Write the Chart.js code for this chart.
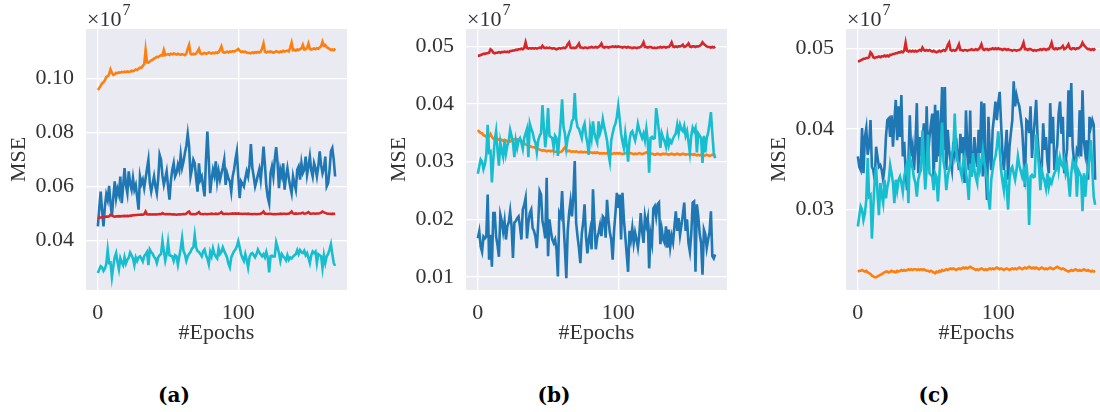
<!DOCTYPE html>
<html>
<head>
<meta charset="utf-8">
<script src="https://cdn.jsdelivr.net/npm/chart.js@4.4.0/dist/chart.umd.min.js"></script>
<style>
html, body { margin: 0; padding: 0; background: #fff; width: 1100px; height: 412px; overflow: hidden; }
.panel { position: absolute; top: 0; }
.cap { position: absolute; top: 383px; font: 900 20px 'DejaVu Serif', serif; color: #000; transform: translateX(-50%); line-height: 24px; }
</style>
</head>
<body>
<canvas id="chartA" class="panel" width="380" height="360" style="left:0px"></canvas>
<canvas id="chartB" class="panel" width="380" height="360" style="left:380px"></canvas>
<canvas id="chartC" class="panel" width="380" height="360" style="left:760px"></canvas>
<div class="cap" style="left:174px">(a)</div>
<div class="cap" style="left:554px">(b)</div>
<div class="cap" style="left:934px">(c)</div>
<script>
// MSE values in units of 10^4 (axis shows them as x10^7)
const epochs = Array.from({ length: 170 }, (_, i) => i)

const redMse = [
    48.4,48.4,48.5,48.6,48.7,48.7,48.8,48.8,48.9,49.5, 49.3,48.9,48.8,48.9,48.9,49.0,48.9,49.0,49.0,49.1,
    49.0,49.1,49.0,49.2,49.2,49.3,49.3,49.4,49.4,49.5, 49.5,49.6,49.5,49.7,50.7,49.7,49.6,49.7,49.6,49.7,
    49.6,49.7,49.6,49.7,49.8,49.7,50.1,49.8,49.7,49.8, 49.7,49.8,49.7,49.6,49.7,49.6,49.5,49.6,49.7,49.6,
    49.7,49.8,49.7,49.9,50.4,50.7,49.8,49.7,49.8,49.7, 49.8,50.1,50.5,49.8,49.8,49.7,49.8,49.8,49.7,49.8,
    49.8,49.9,49.8,49.8,49.9,49.8,49.9,50.1,50.5,49.9, 49.8,49.9,49.9,49.8,49.9,49.9,50.0,49.9,50.0,49.9,
    50.0,49.9,49.9,49.8,49.9,49.9,49.8,49.9,49.8,49.8, 49.7,49.8,49.8,49.7,49.8,49.8,49.9,50.2,50.7,49.9,
    49.9,49.8,49.9,49.9,49.8,49.7,49.8,49.7,49.8,49.8, 49.9,49.8,49.9,49.9,49.8,49.9,49.9,50.2,50.7,50.0,
    49.9,50.0,49.9,50.0,50.0,50.1,50.3,49.9,50.0,50.2, 50.5,50.0,49.9,50.0,50.0,49.9,50.0,50.0,50.1,50.3,
    50.7,50.4,50.2,50.0,49.9,49.9,49.8,49.9,49.8,50.0
]

const cyanMse = [
    27.9,29.2,30.4,30.0,28.7,29.5,31.2,36.4,31.6,31.8, 26.4,30.4,33.7,35.3,32.0,29.3,33.3,31.8,30.8,33.7,
    31.4,32.8,33.6,35.5,34.5,33.3,30.8,33.7,32.4,33.7, 34.1,33.3,32.2,34.1,34.9,35.7,30.8,36.6,35.7,35.1,
    33.9,33.3,31.6,33.7,34.5,34.9,39.8,36.0,32.5,35.0, 39.3,34.5,34.3,34.1,32.4,34.5,34.1,31.0,34.0,37.0,
    40.8,36.0,34.9,32.4,34.1,35.0,35.7,37.0,37.4,41.9, 37.4,36.0,35.7,34.9,34.1,35.9,36.6,34.5,33.3,31.2,
    35.7,34.1,37.0,34.9,34.0,33.3,37.0,34.9,35.7,37.4, 36.0,34.9,33.7,31.4,30.0,33.7,34.9,36.0,36.6,37.8,
    39.7,37.4,34.9,33.5,32.4,34.9,32.8,30.0,33.7,35.0, 35.3,34.5,33.7,34.9,36.6,35.5,34.8,34.1,34.9,33.7,
    35.7,33.7,28.1,34.1,34.3,34.0,34.1,39.3,37.4,35.3, 32.4,34.9,34.1,33.5,32.6,34.5,32.8,33.7,33.3,34.0,
    34.5,34.9,36.4,34.9,36.4,35.6,35.3,36.2,34.5,35.3, 33.5,31.6,34.5,35.9,35.3,35.9,31.6,34.9,34.5,34.1,
    29.8,34.5,31.6,34.1,35.0,36.6,38.6,34.9,31.6,30.6
]

const blueA = [
    45.2,52.0,58.1,51.0,45.2,52.5,57.0,55.0,60.2,54.0, 48.9,56.0,61.9,55.7,59.0,57.0,63.7,53.8,60.0,66.8,
    60.5,57.5,65.6,61.0,58.8,63.1,58.8,60.5,56.0,51.4, 63.7,61.0,62.5,59.4,63.0,66.5,69.9,61.2,58.1,61.0,
    63.7,60.0,57.5,63.0,71.7,69.9,64.0,60.6,63.0,65.6, 60.0,55.1,62.0,66.2,68.6,63.7,65.0,68.0,66.0,71.7,
    67.0,69.3,72.4,75.0,79.5,74.8,63.7,66.5,69.9,68.6, 63.0,58.1,68.6,62.5,63.7,60.0,56.3,69.9,80.4,69.9,
    57.5,62.5,66.2,64.0,69.3,61.9,65.6,62.5,64.9,67.0, 69.9,60.6,64.9,63.0,61.9,58.1,63.7,66.2,70.0,73.0,
    63.7,55.7,61.9,61.0,60.0,63.0,65.6,63.7,68.0,75.7, 67.0,63.7,60.0,62.0,64.3,66.4,62.5,68.0,74.8,68.0,
    60.0,56.0,53.8,64.9,67.4,63.7,70.0,74.6,68.6,59.4, 66.2,64.0,68.6,58.8,63.7,66.8,63.0,60.0,57.5,63.7,
    61.0,58.8,66.2,67.4,62.5,68.6,65.0,66.2,71.1,64.3, 67.4,71.1,66.0,63.7,68.6,66.8,63.7,67.4,73.0,68.0,
    64.9,66.8,71.1,60.0,61.2,66.0,73.0,74.2,69.9,63.7
]

const orangeA = [
    95.8,96.5,97.3,98.2,98.6,99.4,100.6,100.9,101.6,103.4, 102.2,101.4,101.6,102.1,102.0,102.3,102.2,102.5,102.3,102.6,
    102.4,102.7,102.5,102.6,102.9,102.7,103.0,103.4,103.2,103.7, 104.1,104.0,104.7,105.3,110.6,106.0,105.9,106.3,106.8,107.0,
    107.4,107.7,108.1,108.0,108.4,108.7,108.6,110.6,108.7,108.9, 109.1,108.8,109.2,109.0,109.3,109.1,108.9,109.2,109.0,108.8,
    109.1,108.9,108.7,109.3,111.0,112.5,109.2,108.9,109.2,109.0, 109.3,110.0,111.0,109.4,109.1,109.3,109.5,109.2,109.4,109.7,
    109.5,109.3,109.6,109.4,109.7,109.5,109.8,110.7,111.9,109.9, 109.6,109.8,110.0,109.7,110.1,109.9,110.2,110.0,110.3,110.6,
    111.0,110.4,109.9,110.1,109.8,110.0,109.7,109.5,109.6,109.4, 109.7,109.5,109.8,109.6,109.9,109.7,110.0,111.2,113.0,110.0,
    109.7,110.0,109.8,110.1,109.9,109.6,109.8,110.2,110.0,109.7, 110.1,109.9,110.3,110.0,110.2,110.4,110.1,111.5,113.3,110.5,
    110.7,110.4,110.8,110.6,110.9,111.2,112.5,110.8,110.9,111.4, 113.0,111.0,110.8,111.0,111.2,110.9,111.3,111.1,111.5,112.0,
    113.7,112.2,112.5,111.6,111.4,111.0,110.6,110.8,110.5,111.2
]

const blueB = [
    16.7,17.9,15.3,14.4,17.0,16.7,17.0,24.3,13.0,17.3, 11.8,21.1,21.1,17.0,15.5,13.5,20.8,19.7,17.9,19.7,
    16.5,18.8,19.5,21.4,18.8,13.3,19.4,19.7,20.2,20.5, 18.8,16.5,21.7,22.5,23.7,16.7,19.4,21.1,21.7,18.5,
    18.0,17.0,15.0,19.4,24.9,24.3,19.7,18.5,16.7,27.2, 13.6,20.0,18.0,16.5,15.9,16.5,14.8,10.1,21.1,20.5,
    24.9,19.4,15.0,9.8,18.0,21.1,23.1,20.5,24.0,30.1, 19.4,17.0,15.0,12.4,17.5,19.4,22.6,17.0,14.1,16.5,
    18.0,14.8,25.2,19.4,14.8,16.8,17.7,19.0,17.1,20.5, 20.2,16.8,23.4,20.0,17.7,16.5,13.0,18.0,21.1,24.6,
    22.0,24.3,16.5,24.6,20.0,17.1,14.0,10.9,18.0,16.5, 18.5,15.9,17.7,16.5,15.1,17.4,21.1,17.9,15.9,20.5,
    19.0,20.2,11.5,17.4,15.9,21.9,22.3,20.5,22.6,22.9, 15.7,18.2,16.5,15.9,18.8,15.1,18.2,15.2,17.1,16.0,
    18.8,21.4,18.0,20.2,17.3,19.0,20.8,22.9,18.0,20.0, 15.9,14.4,17.5,22.9,23.1,10.9,22.6,20.5,17.5,15.9,
    10.4,18.2,17.4,15.0,16.5,17.7,21.4,13.6,13.2,13.9
]

const orangeB = [
    35.5,35.2,35.0,34.9,34.6,34.5,34.3,34.2,34.4,34.8, 34.3,34.0,34.1,33.9,33.8,33.9,33.7,33.8,33.6,33.8,
    33.7,33.5,33.6,33.5,33.7,33.8,33.9,33.8,33.9,33.7, 33.8,33.6,33.4,33.2,33.0,32.9,32.8,32.7,32.6,32.5,
    32.5,32.4,32.3,32.2,32.1,32.0,31.9,32.0,31.9,31.8, 31.9,31.9,31.8,31.9,31.8,31.7,31.8,31.7,31.6,31.7,
    31.8,32.2,32.5,31.9,31.8,31.9,31.8,31.7,31.8,31.7, 31.8,31.7,31.6,31.7,31.7,31.6,31.7,31.6,31.7,31.5,
    31.6,31.6,31.5,31.6,31.5,31.6,31.5,31.4,31.5,31.4, 31.5,31.4,31.5,31.4,31.5,31.3,31.4,31.5,31.4,31.5,
    31.4,31.5,31.4,31.3,31.4,31.5,31.4,31.3,31.4,31.5, 31.4,31.3,31.4,31.3,31.4,31.5,31.4,31.3,31.4,31.5,
    31.6,31.5,31.4,31.3,31.4,31.3,31.2,31.3,31.4,31.3, 31.2,31.3,31.4,31.3,31.4,31.3,31.2,31.3,31.4,31.3,
    31.2,31.3,31.4,31.3,31.2,31.3,31.4,31.3,31.2,31.3, 31.3,31.2,31.3,31.2,31.3,31.2,31.1,31.2,31.1,31.2,
    31.1,31.0,31.1,31.2,31.1,31.0,31.1,31.2,31.1,31.2
]

const blueC = [
    36.6,35.3,34.9,40.1,34.5,39.0,40.1,36.8,38.0,41.1, 35.3,34.9,33.7,37.8,36.5,35.3,35.5,34.9,33.7,35.3,
    39.0,41.1,41.3,39.0,41.7,37.8,41.0,43.6,38.6,42.8, 39.0,44.2,36.6,38.4,35.0,32.4,35.9,41.7,36.6,37.8,
    34.9,38.0,43.2,34.5,39.0,36.6,38.5,40.7,33.7,42.8, 36.6,39.0,40.5,41.9,33.3,43.0,35.9,42.3,36.6,40.0,
    45.2,37.4,45.2,34.9,39.9,37.4,36.0,34.9,38.4,37.0, 38.9,36.5,34.9,39.4,37.0,39.0,33.3,42.3,37.5,34.9,
    42.3,34.1,35.3,39.0,36.5,35.3,39.9,37.0,43.4,34.1, 43.2,35.0,31.2,41.5,37.0,34.9,39.9,41.5,43.4,41.1,
    43.2,44.6,40.7,37.0,34.9,37.4,39.9,33.7,37.8,39.5, 41.1,45.9,42.8,44.2,43.4,42.8,41.5,40.0,37.0,32.8,
    41.1,40.9,39.5,42.8,36.4,39.0,41.1,43.6,39.0,36.5, 34.5,35.3,40.7,37.4,39.0,36.0,34.5,43.2,38.2,41.5,
    34.9,36.5,38.0,41.9,43.4,39.4,41.5,34.5,36.0,37.5, 44.8,39.0,45.7,37.8,36.0,34.9,37.4,37.0,42.3,36.6,
    44.8,38.5,37.0,38.6,33.7,41.5,40.3,41.1,40.5,33.7
]

const orangeC = [
    22.3,22.4,22.4,22.5,22.4,22.3,22.4,22.2,22.1,22.0, 21.8,21.7,21.6,21.6,21.7,21.8,21.9,22.0,22.1,22.2,
    22.3,22.3,22.2,22.3,22.4,22.3,22.3,22.2,22.4,22.3, 22.4,22.5,22.4,22.5,22.4,22.5,22.6,22.5,22.6,22.5,
    22.6,22.6,22.5,22.6,22.5,22.6,22.5,22.6,22.5,22.4, 22.4,22.3,22.4,22.3,22.2,22.1,22.3,22.2,22.4,22.3,
    22.5,22.4,22.5,22.6,22.5,22.6,22.7,22.6,22.7,22.6, 22.5,22.6,22.7,22.6,22.7,22.8,22.7,22.8,22.7,22.8,
    22.9,22.8,22.7,22.6,22.5,22.6,22.5,22.6,22.7,22.6, 22.5,22.6,22.5,22.6,22.7,22.6,22.7,22.6,22.7,22.8,
    22.7,22.6,22.7,22.6,22.5,22.6,22.7,22.6,22.5,22.6, 22.7,22.6,22.7,22.6,22.7,22.8,22.7,22.6,22.7,22.8,
    22.7,22.8,22.9,22.8,22.7,22.8,22.7,22.8,22.7,22.6, 22.7,22.8,22.7,22.6,22.7,22.6,22.7,22.8,22.7,22.6,
    22.7,22.8,22.9,22.8,22.7,22.6,22.7,22.6,22.5,22.4, 22.3,22.4,22.5,22.4,22.5,22.6,22.5,22.4,22.5,22.4,
    22.5,22.6,22.5,22.4,22.5,22.4,22.3,22.4,22.3,22.4
]

const xTicks = [0, 100]
const yTicksA = [40, 60, 80, 100]
const yTicksB = [10, 20, 30, 40, 50]
const yTicksC = [30, 40, 50]

const colors = { blue: '#1f77b4', orange: '#ff7f0e', red: '#d62728', cyan: '#17becf' }

Chart.defaults.font.family = "'Liberation Serif', 'DejaVu Serif', serif"
Chart.defaults.font.size = 22
Chart.defaults.color = '#333333'

const background = {
    id: 'background',
    beforeDraw(chart) {
        const { ctx, chartArea } = chart
        ctx.save()
        ctx.fillStyle = '#eaeaf2'
        ctx.fillRect(chartArea.left, chartArea.top, chartArea.width, chartArea.height)
        ctx.restore()
    }
}

// the "x10^7" offset text above the y axis
const offsetText = {
    id: 'offsetText',
    afterDraw(chart) {
        const ctx = chart.ctx
        const left = chart.chartArea.left + 1
        ctx.save()
        ctx.fillStyle = '#333333'
        ctx.textBaseline = 'alphabetic'
        ctx.font = "22px 'Liberation Serif'"
        ctx.fillText('×10', left, 26)
        const w = ctx.measureText('×10').width
        ctx.font = "16px 'Liberation Serif'"
        ctx.fillText('7', left + w + 1, 15)
        ctx.restore()
    }
}

function line(values, color) {
    return { data: values, borderColor: color, borderWidth: 2.6, pointRadius: 0, fill: false, tension: 0 }
}

function makeChart(id, datasets, yMin, yMax, yTicks) {
    new Chart(document.getElementById(id), {
        type: 'line',
        data: { labels: epochs, datasets: datasets },
        options: {
            responsive: false,
            animation: false,
            layout: { padding: { top: 29, right: 33, left: 0, bottom: 0 } },
            plugins: { legend: { display: false }, tooltip: { enabled: false } },
            scales: {
                x: {
                    type: 'linear',
                    min: -8.45,
                    max: 177.45,
                    afterBuildTicks: s => { s.ticks = xTicks.map(v => ({ value: v })) },
                    afterFit: s => { s.height = 70 },
                    grid: { color: '#ffffff', lineWidth: 1.3, drawTicks: false },
                    border: { display: false },
                    ticks: { padding: 10, callback: v => String(v) },
                    title: { display: true, text: '#Epochs', padding: { top: 0, bottom: 14 } }
                },
                y: {
                    min: yMin,
                    max: yMax,
                    afterBuildTicks: s => { s.ticks = yTicks.map(v => ({ value: v })) },
                    afterFit: s => { s.width = 86 },
                    grid: { color: '#ffffff', lineWidth: 1.3, drawTicks: false },
                    border: { display: false },
                    ticks: { padding: 12, callback: v => (v / 1000).toFixed(2) },
                    title: { display: true, text: 'MSE', padding: { top: 6, bottom: 0 } }
                }
            }
        },
        plugins: [background, offsetText]
    })
}

// cyan first so it is painted on top
makeChart('chartA', [line(cyanMse, colors.cyan), line(redMse, colors.red), line(orangeA, colors.orange), line(blueA, colors.blue)], 21.6, 118.4, yTicksA)
makeChart('chartB', [line(cyanMse, colors.cyan), line(redMse, colors.red), line(orangeB, colors.orange), line(blueB, colors.blue)], 7.74, 53.02, yTicksB)
makeChart('chartC', [line(cyanMse, colors.cyan), line(redMse, colors.red), line(orangeC, colors.orange), line(blueC, colors.blue)], 20.02, 52.4, yTicksC)
</script>
</body>
</html>
